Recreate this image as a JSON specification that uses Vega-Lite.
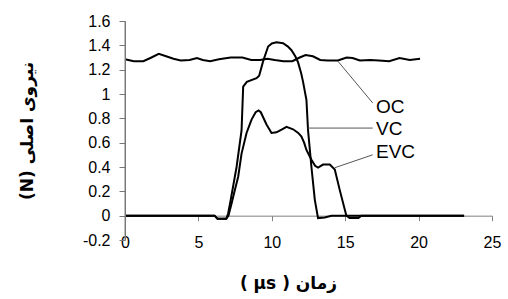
{
  "$schema": "https://vega.github.io/schema/vega-lite/v6.json",
  "width": 367,
  "height": 219,
  "autosize": {"type": "none"},
  "padding": {"left": 125, "top": 21, "right": 16, "bottom": 59},
  "background": "white",
  "config": {
    "view": {"stroke": null},
    "axis": {"grid": false, "domain": true, "ticks": true, "domainColor": "#808080", "domainWidth": 1, "tickColor": "#808080", "tickWidth": 1, "labelFont": "Liberation Sans", "labelFontSize": 16, "labelColor": "black", "labelOverlap": false, "labelBound": false, "labelFlush": false, "titleFont": "DejaVu Sans", "titleFontSize": 17, "titleFontWeight": "bold", "titleColor": "black"}
  },
  "datasets": {
    "lines": [
      {"s":"OC","x":0,"y":1.285},{"s":"OC","x":0.6,"y":1.27},{"s":"OC","x":1.25,"y":1.27},{"s":"OC","x":1.8,"y":1.30},{"s":"OC","x":2.3,"y":1.33},{"s":"OC","x":2.8,"y":1.31},{"s":"OC","x":3.3,"y":1.29},{"s":"OC","x":3.8,"y":1.275},{"s":"OC","x":4.4,"y":1.28},{"s":"OC","x":4.9,"y":1.295},{"s":"OC","x":5.3,"y":1.28},{"s":"OC","x":5.8,"y":1.27},{"s":"OC","x":6.4,"y":1.285},{"s":"OC","x":7.2,"y":1.30},{"s":"OC","x":8.0,"y":1.30},{"s":"OC","x":8.6,"y":1.28},{"s":"OC","x":9.2,"y":1.28},{"s":"OC","x":9.7,"y":1.29},{"s":"OC","x":10.2,"y":1.28},{"s":"OC","x":10.8,"y":1.27},{"s":"OC","x":11.4,"y":1.27},{"s":"OC","x":11.9,"y":1.30},{"s":"OC","x":12.3,"y":1.32},{"s":"OC","x":12.8,"y":1.31},{"s":"OC","x":13.3,"y":1.28},{"s":"OC","x":13.8,"y":1.275},{"s":"OC","x":14.5,"y":1.275},{"s":"OC","x":15.1,"y":1.30},{"s":"OC","x":15.5,"y":1.295},{"s":"OC","x":16.0,"y":1.275},{"s":"OC","x":16.7,"y":1.28},{"s":"OC","x":17.3,"y":1.275},{"s":"OC","x":18.0,"y":1.27},{"s":"OC","x":18.7,"y":1.295},{"s":"OC","x":19.4,"y":1.28},{"s":"OC","x":20.1,"y":1.29},
      {"s":"VC","x":0,"y":0},{"s":"VC","x":6.1,"y":0},{"s":"VC","x":6.3,"y":-0.025},{"s":"VC","x":6.9,"y":-0.025},{"s":"VC","x":7.03,"y":0.02},{"s":"VC","x":7.2,"y":0.13},{"s":"VC","x":7.6,"y":0.40},{"s":"VC","x":7.94,"y":0.70},{"s":"VC","x":8.05,"y":1.06},{"s":"VC","x":8.3,"y":1.10},{"s":"VC","x":8.96,"y":1.13},{"s":"VC","x":9.14,"y":1.15},{"s":"VC","x":9.41,"y":1.27},{"s":"VC","x":9.75,"y":1.39},{"s":"VC","x":10.0,"y":1.415},{"s":"VC","x":10.32,"y":1.425},{"s":"VC","x":10.77,"y":1.417},{"s":"VC","x":11.1,"y":1.39},{"s":"VC","x":11.34,"y":1.36},{"s":"VC","x":11.6,"y":1.31},{"s":"VC","x":11.79,"y":1.26},{"s":"VC","x":12.0,"y":1.17},{"s":"VC","x":12.13,"y":1.10},{"s":"VC","x":12.36,"y":0.95},{"s":"VC","x":12.47,"y":0.70},{"s":"VC","x":12.7,"y":0.40},{"s":"VC","x":12.93,"y":0.13},{"s":"VC","x":13.15,"y":-0.02},{"s":"VC","x":13.6,"y":-0.015},{"s":"VC","x":14.06,"y":0},{"s":"VC","x":23.1,"y":0},
      {"s":"EVC","x":0,"y":0},{"s":"EVC","x":6.1,"y":0},{"s":"EVC","x":6.3,"y":-0.025},{"s":"EVC","x":6.9,"y":-0.025},{"s":"EVC","x":7.05,"y":0.0},{"s":"EVC","x":7.26,"y":0.10},{"s":"EVC","x":7.5,"y":0.22},{"s":"EVC","x":7.71,"y":0.32},{"s":"EVC","x":7.94,"y":0.51},{"s":"EVC","x":8.28,"y":0.68},{"s":"EVC","x":8.62,"y":0.79},{"s":"EVC","x":8.9,"y":0.85},{"s":"EVC","x":9.1,"y":0.865},{"s":"EVC","x":9.25,"y":0.85},{"s":"EVC","x":9.64,"y":0.75},{"s":"EVC","x":9.98,"y":0.68},{"s":"EVC","x":10.32,"y":0.685},{"s":"EVC","x":10.7,"y":0.71},{"s":"EVC","x":11.0,"y":0.73},{"s":"EVC","x":11.45,"y":0.71},{"s":"EVC","x":11.8,"y":0.68},{"s":"EVC","x":12.02,"y":0.65},{"s":"EVC","x":12.2,"y":0.60},{"s":"EVC","x":12.36,"y":0.54},{"s":"EVC","x":12.7,"y":0.46},{"s":"EVC","x":12.95,"y":0.41},{"s":"EVC","x":13.15,"y":0.395},{"s":"EVC","x":13.49,"y":0.42},{"s":"EVC","x":13.95,"y":0.42},{"s":"EVC","x":14.29,"y":0.38},{"s":"EVC","x":14.63,"y":0.21},{"s":"EVC","x":15.08,"y":0},{"s":"EVC","x":15.3,"y":-0.02},{"s":"EVC","x":15.9,"y":-0.02},{"s":"EVC","x":16.1,"y":0},{"s":"EVC","x":23.1,"y":0}
    ],
    "leaders": [
      {"s":"OC","x":14.5,"y":1.27,"x2":16.87,"y2":0.927},
      {"s":"VC","x":12.45,"y":0.72,"x2":16.87,"y2":0.72},
      {"s":"EVC","x":14.29,"y":0.394,"x2":16.87,"y2":0.50}
    ],
    "labels": [
      {"s":"OC","x":17.1,"y":0.89},
      {"s":"VC","x":17.1,"y":0.71},
      {"s":"EVC","x":17.1,"y":0.52}
    ],
    "yline": [
      {"x":0,"y":-0.2,"y2":1.6}
    ]
  },
  "encoding": {
    "x": {"field": "x", "type": "quantitative",
      "scale": {"domain": [0, 25], "nice": false, "zero": false},
      "axis": {"values": [0,5,10,15,20,25], "offset": -24.33, "tickSize": 5, "labelPadding": 14, "title": "( μs ) زمان", "titlePadding": 25, "titleX": 163}},
    "y": {"field": "y", "type": "quantitative",
      "scale": {"domain": [-0.2, 1.6], "nice": false, "zero": false},
      "axis": {"values": [-0.2,0,0.2,0.4,0.6,0.8,1,1.2,1.4,1.6], "labelExpr": "toString(datum.value)", "domain": true, "domainColor": "#777777", "domainOpacity": 1, "domainWidth": 1, "ticks": true, "tickColor": "#777777", "tickOpacity": 1, "tickWidth": 1, "tickSize": 6, "labelPadding": 9, "title": "(N) نیروی اصلی", "titlePadding": 46, "zindex": 1}}
  },
  "layer": [
    {
      "data": {"name": "yline"},
      "mark": {"type": "rule", "color": "#808080", "strokeWidth": 1},
      "encoding": {
        "y2": {"field": "y2"}
      }
    },
    {
      "data": {"name": "lines"},
      "mark": {"type": "line", "color": "black", "strokeWidth": 2},
      "encoding": {
        "detail": {"field": "s"},
        "order": {"field": "x", "type": "quantitative"}
      }
    },
    {
      "data": {"name": "leaders"},
      "mark": {"type": "rule", "color": "#555555", "strokeWidth": 1},
      "encoding": {
        "x2": {"field": "x2"},
        "y2": {"field": "y2"}
      }
    },
    {
      "data": {"name": "labels"},
      "mark": {"type": "text", "align": "left", "baseline": "middle", "font": "Liberation Sans", "fontSize": 19, "color": "black"},
      "encoding": {
        "text": {"field": "s"}
      }
    }
  ]
}
